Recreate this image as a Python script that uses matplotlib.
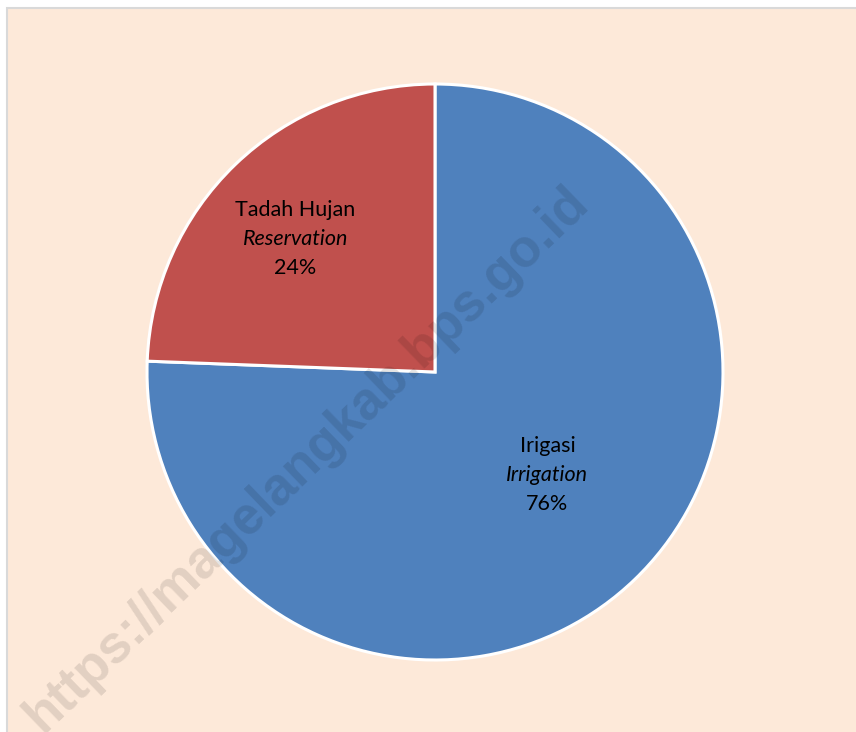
import matplotlib.pyplot as plt
from matplotlib.patches import Rectangle
import numpy as np

plt.rcParams['font.family'] = ['Lato', 'DejaVu Sans']

# data
labels_id = ['Irigasi', 'Tadah Hujan']
labels_en = ['Irrigation', 'Reservation']
values = [75.6, 24.4]
colors = ['#4F81BD', '#C0504D']
label_pos = [0.53, 0.67]   # label distance as fraction of radius
label_shift = [3.5, 2.5]   # small angular shift of label, degrees

W, H = 856, 732
fig = plt.figure(figsize=(W / 100, H / 100), dpi=100)
fig.patch.set_facecolor('white')

# chart area background with thin grey border
bg = Rectangle((7 / W, -0.01), (W + 10) / W, (H - 8) / H + 0.01, transform=fig.transFigure,
               facecolor='#FDE9D9', edgecolor='#D9D9D9', linewidth=1.5, zorder=-5)
fig.patches.append(bg)

cx, cy, r = 435, 372, 288
ax = fig.add_axes([(cx - r) / W, (H - cy - r) / H, 2 * r / W, 2 * r / H])

wedges, _ = ax.pie(values, colors=colors, startangle=90, counterclock=False,
                   radius=1, wedgeprops=dict(edgecolor='white', linewidth=2.2))
for w in wedges:
    w.set_clip_on(False)
ax.set_xlim(-1, 1)
ax.set_ylim(-1, 1)
ax.axis('off')

total = sum(values)
for w, a, b, v, d, s in zip(wedges, labels_id, labels_en, values, label_pos, label_shift):
    mid = np.deg2rad((w.theta1 + w.theta2) / 2 + s)
    x, y = d * np.cos(mid), d * np.sin(mid)
    ax.text(x, y + 0.1, a, ha='center', va='center', fontsize=15.5, color='black')
    ax.text(x, y, b, ha='center', va='center', fontsize=15.5, style='italic', color='black')
    ax.text(x, y - 0.1, '{:.0f}%'.format(v / total * 100), ha='center', va='center',
            fontsize=15.5, color='black')

# watermark
fig.text(307 / W, 1 - 460 / H, 'https://magelangkab.bps.go.id', rotation=44,
         ha='center', va='center', rotation_mode='anchor', fontsize=38,
         fontweight='bold', color='black', alpha=0.11, zorder=10,
         family=['Liberation Sans', 'DejaVu Sans'])

fig.savefig('out.png', dpi=100, facecolor=fig.get_facecolor())
